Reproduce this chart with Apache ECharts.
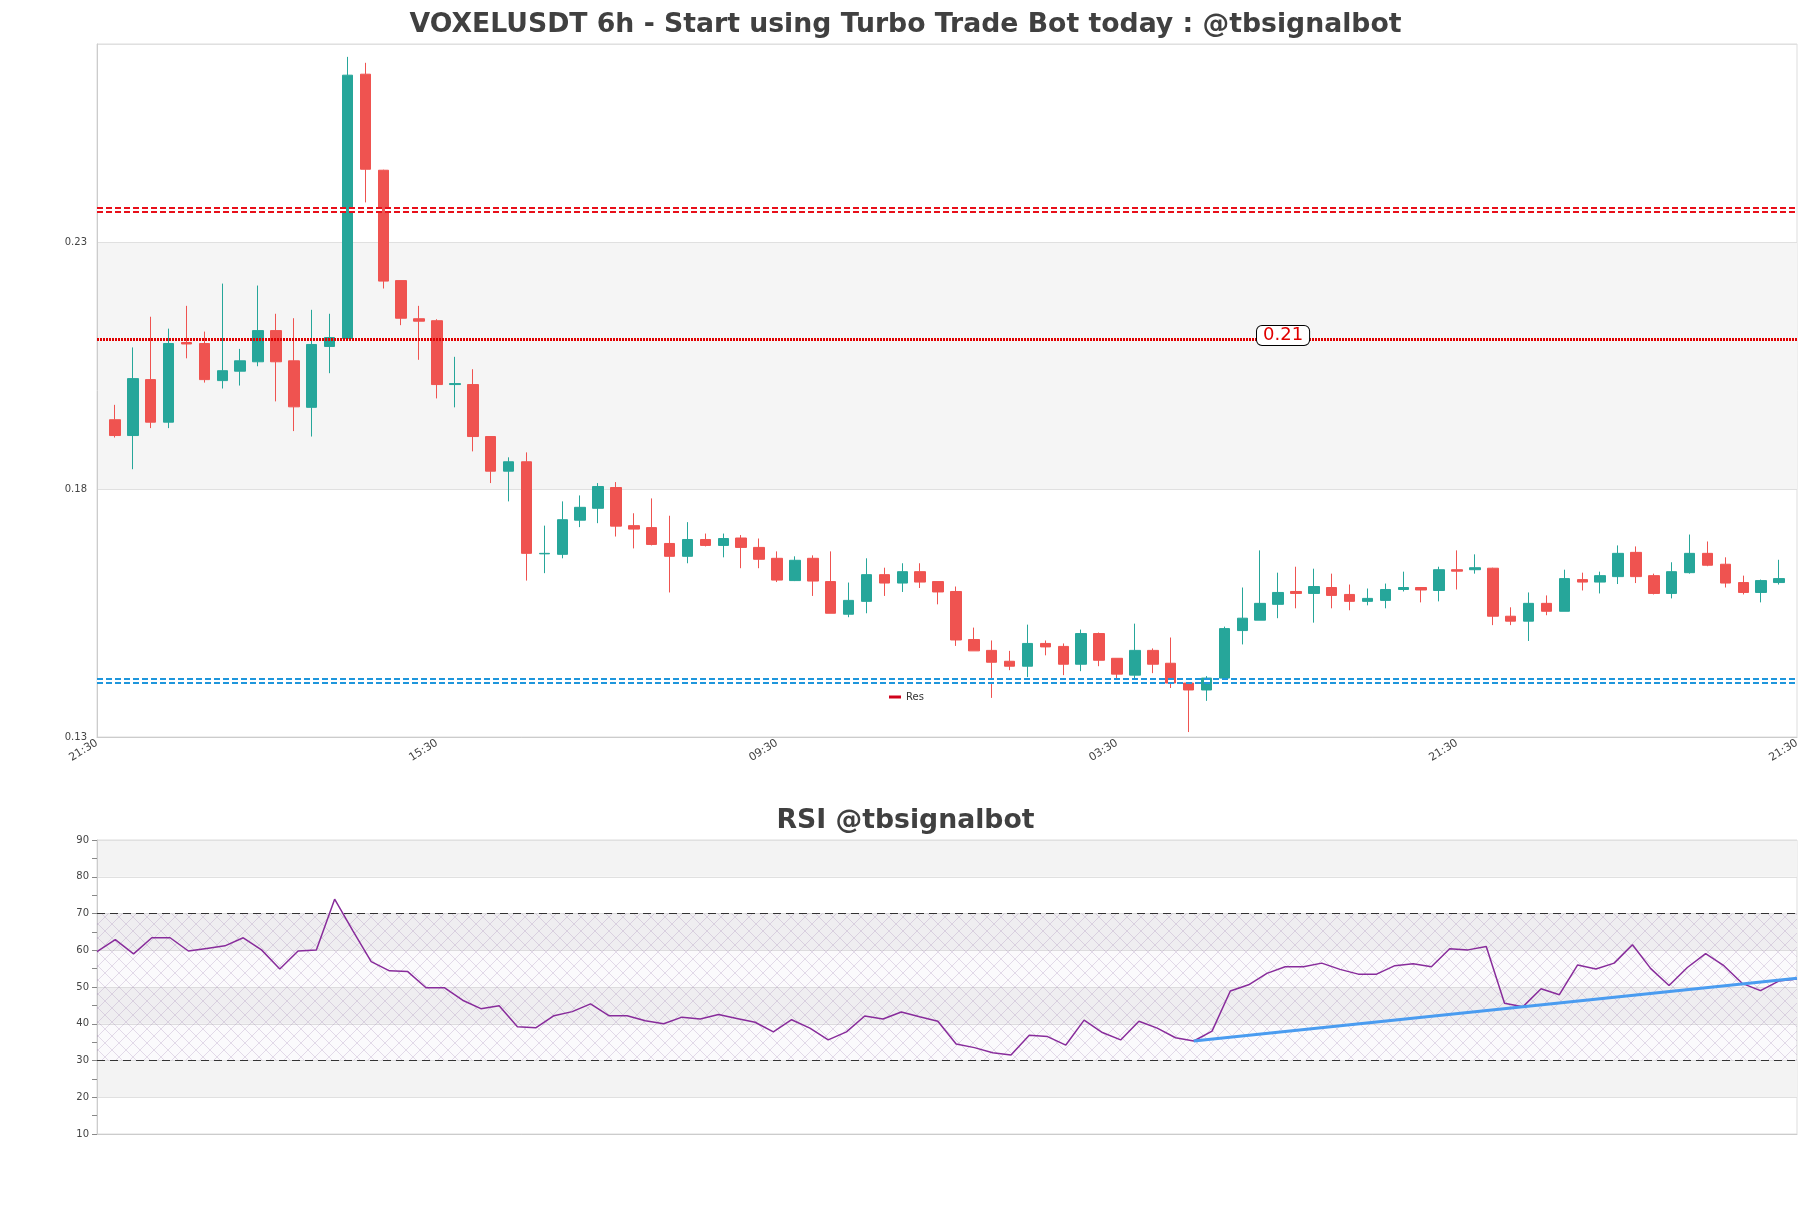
<!DOCTYPE html>
<html><head><meta charset="utf-8">
<script src="https://cdn.jsdelivr.net/npm/echarts@6/dist/echarts.min.js"></script>
<style>html,body{margin:0;padding:0;background:#fff}#c{width:1811px;height:1208px}</style>
</head><body><div id="c"></div>
<script>
// ---- data ----
const opens  = [0.1941,0.1909,0.2022,0.1936,0.2097,0.2095,0.2020,0.2039,0.2058,0.2121,0.2060,0.1966,0.2089,0.2105,0.2639,0.2445,0.2222,0.2145,0.2141,0.2012,0.2012,0.1907,0.1837,0.1856,0.1670,0.1669,0.1738,0.1762,0.1804,0.1727,0.1723,0.1691,0.1665,0.1699,0.1687,0.1702,0.1683,0.1661,0.1616,0.1661,0.1614,0.1548,0.1574,0.1628,0.1611,0.1634,0.1614,0.1594,0.1497,0.1475,0.1453,0.1443,0.1489,0.1483,0.1447,0.1509,0.1459,0.1425,0.1475,0.1449,0.1409,0.1395,0.1419,0.1515,0.1536,0.1568,0.1594,0.1590,0.1602,0.1588,0.1574,0.1576,0.1598,0.1602,0.1596,0.1638,0.1638,0.1641,0.1544,0.1534,0.1570,0.1554,0.1618,0.1613,0.1624,0.1673,0.1626,0.1590,0.1632,0.1671,0.1649,0.1612,0.1592,0.1612];
const closes = [0.1909,0.2024,0.1936,0.2095,0.2094,0.2022,0.2040,0.2060,0.2121,0.2058,0.1967,0.2093,0.2107,0.2637,0.2447,0.2221,0.2146,0.2140,0.2012,0.2014,0.1907,0.1837,0.1856,0.1671,0.1671,0.1739,0.1764,0.1806,0.1726,0.1720,0.1689,0.1665,0.1699,0.1687,0.1701,0.1683,0.1659,0.1617,0.1657,0.1615,0.1550,0.1576,0.1628,0.1611,0.1634,0.1613,0.1593,0.1496,0.1474,0.1451,0.1443,0.1489,0.1482,0.1447,0.1509,0.1455,0.1427,0.1475,0.1447,0.1409,0.1395,0.1419,0.1519,0.1540,0.1570,0.1592,0.1590,0.1604,0.1586,0.1574,0.1580,0.1598,0.1602,0.1597,0.1638,0.1635,0.1642,0.1544,0.1534,0.1570,0.1554,0.1620,0.1613,0.1626,0.1671,0.1624,0.1590,0.1634,0.1671,0.1647,0.1611,0.1592,0.1616,0.1620];
const lows   = [0.1905,0.1841,0.1924,0.1924,0.2065,0.2016,0.2004,0.2010,0.2049,0.1978,0.1918,0.1907,0.2035,0.2105,0.2380,0.2206,0.2132,0.2062,0.1984,0.1966,0.1877,0.1813,0.1776,0.1616,0.1631,0.1661,0.1724,0.1732,0.1705,0.1681,0.1687,0.1592,0.1651,0.1685,0.1663,0.1641,0.1641,0.1613,0.1615,0.1585,0.1550,0.1542,0.1550,0.1585,0.1593,0.1601,0.1568,0.1484,0.1474,0.1379,0.1435,0.1421,0.1465,0.1425,0.1433,0.1443,0.1413,0.1419,0.1429,0.1399,0.1310,0.1373,0.1415,0.1487,0.1536,0.1540,0.1560,0.1531,0.1560,0.1556,0.1566,0.1560,0.1594,0.1572,0.1574,0.1598,0.1630,0.1526,0.1526,0.1494,0.1546,0.1554,0.1596,0.1590,0.1609,0.1611,0.1588,0.1580,0.1630,0.1645,0.1602,0.1588,0.1572,0.1608];
const highs  = [0.1971,0.2087,0.2149,0.2125,0.2171,0.2119,0.2216,0.2084,0.2212,0.2155,0.2146,0.2163,0.2155,0.2674,0.2662,0.2446,0.2222,0.2171,0.2144,0.2068,0.2043,0.1907,0.1865,0.1875,0.1727,0.1776,0.1788,0.1813,0.1815,0.1752,0.1782,0.1747,0.1734,0.1711,0.1711,0.1708,0.1701,0.1675,0.1665,0.1667,0.1675,0.1612,0.1661,0.1642,0.1651,0.1651,0.1614,0.1604,0.1521,0.1495,0.1474,0.1527,0.1495,0.1489,0.1517,0.1511,0.1459,0.1529,0.1479,0.1501,0.1409,0.1423,0.1523,0.1602,0.1677,0.1632,0.1644,0.1640,0.1630,0.1608,0.1600,0.1610,0.1634,0.1602,0.1644,0.1677,0.1669,0.1642,0.1562,0.1592,0.1586,0.1638,0.1632,0.1634,0.1687,0.1685,0.1630,0.1653,0.1709,0.1695,0.1663,0.1626,0.1618,0.1658];
const rsi = [59.6,62.9,59.0,63.4,63.4,59.8,60.5,61.2,63.4,60.1,54.9,59.8,60.1,73.9,65.3,56.9,54.4,54.2,49.8,49.8,46.4,44.1,44.9,39.2,38.9,42.2,43.3,45.4,42.2,42.2,40.8,40.0,41.8,41.3,42.5,41.4,40.4,37.8,41.1,38.8,35.6,37.8,42.1,41.3,43.2,41.9,40.7,34.5,33.5,32.1,31.5,36.9,36.5,34.2,41.0,37.6,35.6,40.7,38.8,36.2,35.3,38.0,48.9,50.6,53.7,55.5,55.5,56.5,54.8,53.5,53.5,55.8,56.3,55.5,60.4,60.1,61.0,45.6,44.6,49.5,47.9,56.0,54.9,56.5,61.5,55.0,50.4,55.3,59.1,55.8,51.0,49.0,51.6,52.2];
const tickLabels = ['21:30','15:30','09:30','03:30','21:30','21:30'];
const tickStep = 19;
const resHigh = 0.2366, resMid = 0.2103, support = 0.1414;
const resLabel = '0.21', resLabelAt = 66;
const trendStart = [60, 35.3], trendEnd = [93, 52.4];
const rsiLevels = [70, 30];
const rsiZone = [30, 70];

// ---- build ----
const n = opens.length;
const cats = [];
for (let i = 0; i < n + 2; i++) cats.push(String(i));
const candleData = opens.map((o, i) => [i + 1, o, closes[i], lows[i], highs[i]]);
const rsiCats = rsi.map((_, i) => String(i));

const pc = document.createElement('canvas');
pc.width = 14; pc.height = 14;
const g = pc.getContext('2d');
g.fillStyle = 'rgba(140,90,170,0.03)';
g.fillRect(0, 0, 14, 14);
g.strokeStyle = 'rgba(150,120,175,0.25)';
g.lineWidth = 1;
g.beginPath(); g.moveTo(0, 0); g.lineTo(14, 14); g.moveTo(14, 0); g.lineTo(0, 14); g.stroke();

const FONT = 'DejaVu Sans';
const titleStyle = { fontFamily: FONT, fontSize: 26.7, fontWeight: 'bold', color: '#404040' };

const chart = echarts.init(document.getElementById('c'), null, { renderer: 'canvas' });
chart.setOption({
  animation: false,
  backgroundColor: '#fff',
  textStyle: { fontFamily: FONT },
  title: [
    { text: 'VOXELUSDT 6h - Start using Turbo Trade Bot today : @tbsignalbot', left: 'center', top: 7, textStyle: titleStyle },
    { text: 'RSI @tbsignalbot', left: 'center', top: 803, textStyle: titleStyle }
  ],
  legend: {
    data: ['Res'], left: 884, top: 687, icon: 'rect', itemWidth: 12, itemHeight: 3, itemGap: 6,
    textStyle: { fontSize: 10, color: '#333', fontFamily: FONT }
  },
  grid: [
    { left: 97, right: 14, top: 44, height: 693, show: true, borderColor: '#ddd', borderWidth: 1, outerBoundsMode: 'none' },
    { left: 97, right: 14, top: 840, height: 294, show: true, borderColor: '#ddd', borderWidth: 1, outerBoundsMode: 'none' }
  ],
  xAxis: [
    {
      type: 'category', gridIndex: 0, data: cats, boundaryGap: false,
      axisLine: { lineStyle: { color: '#ccc' } }, axisTick: { show: false },
      axisLabel: {
        interval: (i) => i % tickStep === 0,
        formatter: (v, i) => (i % tickStep === 0 ? tickLabels[i / tickStep] : ''),
        rotate: 32, fontSize: 11, color: '#444', fontFamily: FONT, margin: 5
      },
      splitLine: { show: false }
    },
    {
      type: 'category', gridIndex: 1, data: rsiCats, boundaryGap: false,
      axisLine: { lineStyle: { color: '#ccc' } }, axisTick: { show: false },
      axisLabel: { show: false }, splitLine: { show: false }
    }
  ],
  yAxis: [
    {
      type: 'value', gridIndex: 0, min: 0.13, max: 0.27, interval: 0.05,
      axisLine: { show: true, lineStyle: { color: '#ccc' } }, axisTick: { show: false },
      axisLabel: { showMaxLabel: false, fontSize: 10, color: '#444', fontFamily: FONT, margin: 10, formatter: (v) => v.toFixed(2) },
      splitLine: { show: true, lineStyle: { color: '#e0e0e0' } },
      splitArea: { show: true, areaStyle: { color: ['rgba(255,255,255,0)', '#f5f5f5'] } }
    },
    {
      type: 'value', gridIndex: 1, min: 10, max: 90, interval: 10,
      axisLine: { show: true, lineStyle: { color: '#ccc' } },
      axisTick: { show: true, length: 5, lineStyle: { color: '#888' } },
      minorTick: { show: true, splitNumber: 2, length: 5, lineStyle: { color: '#888' } },
      axisLabel: { fontSize: 10, color: '#444', fontFamily: FONT, margin: 8 },
      splitLine: { show: true, lineStyle: { color: '#e0e0e0' } },
      splitArea: { show: true, areaStyle: { color: ['rgba(255,255,255,0)', '#f3f3f3'] } }
    }
  ],
  series: [
    {
      type: 'candlestick', name: 'Price', xAxisIndex: 0, yAxisIndex: 0,
      data: candleData, encode: { x: 0, y: [1, 2, 3, 4] }, barWidth: 11,
      itemStyle: { color: '#26a69a', color0: '#ef5350', borderColor: '#26a69a', borderColor0: '#ef5350', borderWidth: 1 },
      markPoint: {
        silent: true, symbol: 'circle', symbolSize: 0, precision: 4,
        label: {
          show: true, formatter: resLabel, position: 'inside', offset: [5, -4],
          color: '#e00000', fontSize: 18, fontFamily: FONT,
          backgroundColor: '#fff', borderColor: '#000', borderWidth: 1, borderRadius: 5, padding: [1, 6, 0, 6]
        },
        data: [{ coord: [String(resLabelAt), resMid] }]
      }
    },
    {
      type: 'line', name: 'Res', xAxisIndex: 0, yAxisIndex: 0, data: [], color: '#d0021b', symbol: 'none',
      markLine: {
        silent: true, symbol: 'none', precision: 6, label: { show: false },
        data: [
          { yAxis: resHigh, lineStyle: { color: '#e8101a', width: 6, type: [6, 3] } },
          { yAxis: resHigh, lineStyle: { color: '#ffffff', width: 2, type: [6, 3] } },
          { yAxis: resMid, lineStyle: { color: '#e00000', width: 3, type: [2, 1] } },
          { yAxis: support, lineStyle: { color: '#1e96dc', width: 6, type: [6, 3] } },
          { yAxis: support, lineStyle: { color: '#ffffff', width: 2, type: [6, 3] } }
        ]
      }
    },
    {
      type: 'line', name: 'RSI', xAxisIndex: 1, yAxisIndex: 1, data: rsi, symbol: 'none',
      color: '#882c9b', lineStyle: { width: 1.5, color: '#882c9b' },
      markArea: {
        silent: true,
        itemStyle: { color: { image: pc, repeat: 'repeat' } },
        data: [[{ yAxis: rsiZone[0] }, { yAxis: rsiZone[1] }]]
      },
      markLine: {
        silent: true, symbol: 'none', precision: 4, label: { show: false },
        lineStyle: { color: '#333', type: [8, 5], width: 1.2 },
        data: rsiLevels.map((v) => ({ yAxis: v }))
      }
    },
    {
      type: 'line', name: 'Trend', xAxisIndex: 1, yAxisIndex: 1, data: [trendStart, trendEnd], symbol: 'none',
      color: '#4a9cf0', lineStyle: { width: 3, color: '#4a9cf0' }, z: 3
    }
  ]
});
</script></body></html>
